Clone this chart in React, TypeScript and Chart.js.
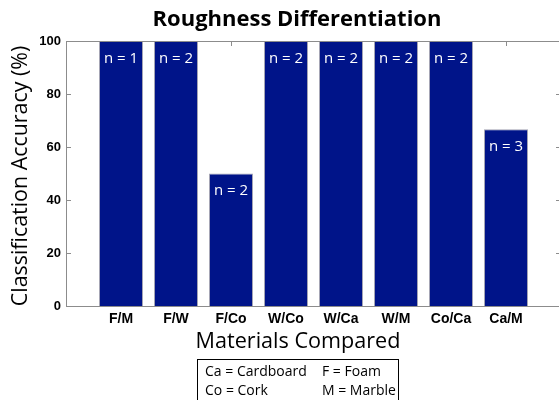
import React, { useEffect, useRef } from "react";
import { Chart, registerables } from "chart.js";

Chart.register(...registerables);

const categories = ["F/M", "F/W", "F/Co", "W/Co", "W/Ca", "W/M", "Co/Ca", "Ca/M"];
const accuracy = [100, 100, 50, 100, 100, 100, 100, 66.67];
const sampleCounts = [1, 2, 2, 2, 2, 2, 2, 3];
const yTicks = [0, 20, 40, 60, 80, 100];
const chartTitle = "Roughness Differentiation";
const yTitle = "Classification Accuracy (%)";
const xTitle = "Materials Compared";
const legendLines = [
  ["Ca = Cardboard", "F = Foam"],
  ["Co = Cork", "M = Marble"],
];

const SANS = "'Open Sans', sans-serif";
const AXIS = "#8c8c8c";

const decorPlugin = {
  id: "decor",
  beforeDatasetsDraw(chart: any) {
    const { ctx, chartArea: a, scales } = chart;
    ctx.save();
    ctx.strokeStyle = AXIS;
    ctx.lineWidth = 1;
    categories.forEach((_, i) => {
      const x = Math.round(scales.x.getPixelForValue(i + 1)) + 0.5;
      ctx.beginPath();
      ctx.moveTo(x, a.top);
      ctx.lineTo(x, a.top + 5);
      ctx.moveTo(x, a.bottom);
      ctx.lineTo(x, a.bottom - 5);
      ctx.stroke();
    });
    yTicks.forEach((v) => {
      const y = Math.round(scales.y.getPixelForValue(v)) + 0.5;
      ctx.beginPath();
      ctx.moveTo(a.left, y);
      ctx.lineTo(a.left + 5, y);
      ctx.moveTo(a.right, y);
      ctx.lineTo(a.right - 5, y);
      ctx.stroke();
    });
    ctx.restore();
  },
  afterDatasetsDraw(chart: any) {
    const { ctx, chartArea: a } = chart;
    ctx.save();
    ctx.strokeStyle = AXIS;
    ctx.lineWidth = 1;
    ctx.strokeRect(Math.round(a.left) + 0.5, Math.round(a.top) + 0.5, a.right - a.left, a.bottom - a.top);

    const meta = chart.getDatasetMeta(0);
    ctx.fillStyle = "#ffffff";
    ctx.font = `15px ${SANS}`;
    ctx.textAlign = "center";
    ctx.textBaseline = "middle";
    meta.data.forEach((bar: any, i: number) => {
      ctx.fillText(`n = ${sampleCounts[i]}`, bar.x, bar.y + 17.5);
    });

    ctx.fillStyle = "#000000";
    ctx.font = `bold 22px ${SANS}`;
    ctx.fillText(chartTitle, 297, 20);

    ctx.save();
    ctx.translate(21, 176);
    ctx.rotate(-Math.PI / 2);
    ctx.font = `21.4px ${SANS}`;
    ctx.fillText(yTitle, 0, 0);
    ctx.restore();

    ctx.font = `21.6px ${SANS}`;
    ctx.fillText(xTitle, 298, 342);

    ctx.strokeStyle = "#000000";
    ctx.strokeRect(197.5, 359.5, 201, 60);
    ctx.font = `14px ${SANS}`;
    ctx.textAlign = "left";
    legendLines.forEach((line, r) => {
      const y = 372 + r * 19;
      ctx.fillText(line[0], 205, y);
      ctx.fillText(line[1], 322, y);
    });
    ctx.restore();
  },
};

export default function App() {
  const ref = useRef<HTMLCanvasElement>(null);
  useEffect(() => {
    if (!ref.current) return;
    const chart = new Chart(ref.current, {
      type: "bar",
      data: {
        datasets: [
          {
            data: accuracy.map((v, i) => ({ x: i + 1, y: v })),
            backgroundColor: "rgb(0,20,137)",
            borderColor: "#a4a4b4",
            borderWidth: 1,
            barPercentage: 0.8,
            categoryPercentage: 1,
          },
        ],
      },
      options: {
        responsive: false,
        animation: false,
        devicePixelRatio: 1,
        layout: { padding: { left: 0, top: 41, right: 14, bottom: 0 } },
        plugins: { legend: { display: false }, tooltip: { enabled: false }, title: { display: false } },
        scales: {
          x: {
            type: "linear",
            min: 0,
            max: 9,
            offset: false,
            grid: { display: false, drawTicks: false, offset: false },
            border: { display: false },
            afterFit: (s: any) => {
              s.height = 94;
            },
            afterBuildTicks: (s: any) => {
              s.ticks = categories.map((_, i) => ({ value: i + 1 }));
            },
            ticks: {
              padding: 5,
              color: "#000",
              font: { family: "'Liberation Sans', Arial, sans-serif", size: 14, weight: "bold" },
              callback: (v: any) => categories[Number(v) - 1] ?? "",
            },
          },
          y: {
            min: 0,
            max: 100,
            grid: { display: false, drawTicks: false },
            border: { display: false },
            afterFit: (s: any) => {
              s.width = 66;
            },
            afterBuildTicks: (s: any) => {
              s.ticks = yTicks.map((v) => ({ value: v }));
            },
            ticks: {
              padding: 5,
              color: "#000",
              font: { family: "'Liberation Sans', Arial, sans-serif", size: 13, weight: "bold" },
            },
          },
        },
      },
      plugins: [decorPlugin],
    });
    return () => chart.destroy();
  }, []);
  return (
    <div style={{ position: "fixed", left: 0, top: 0, width: 559, height: 400, overflow: "hidden", background: "#fff" }}>
      <canvas ref={ref} width={575} height={400} style={{ display: "block" }} />
    </div>
  );
}
